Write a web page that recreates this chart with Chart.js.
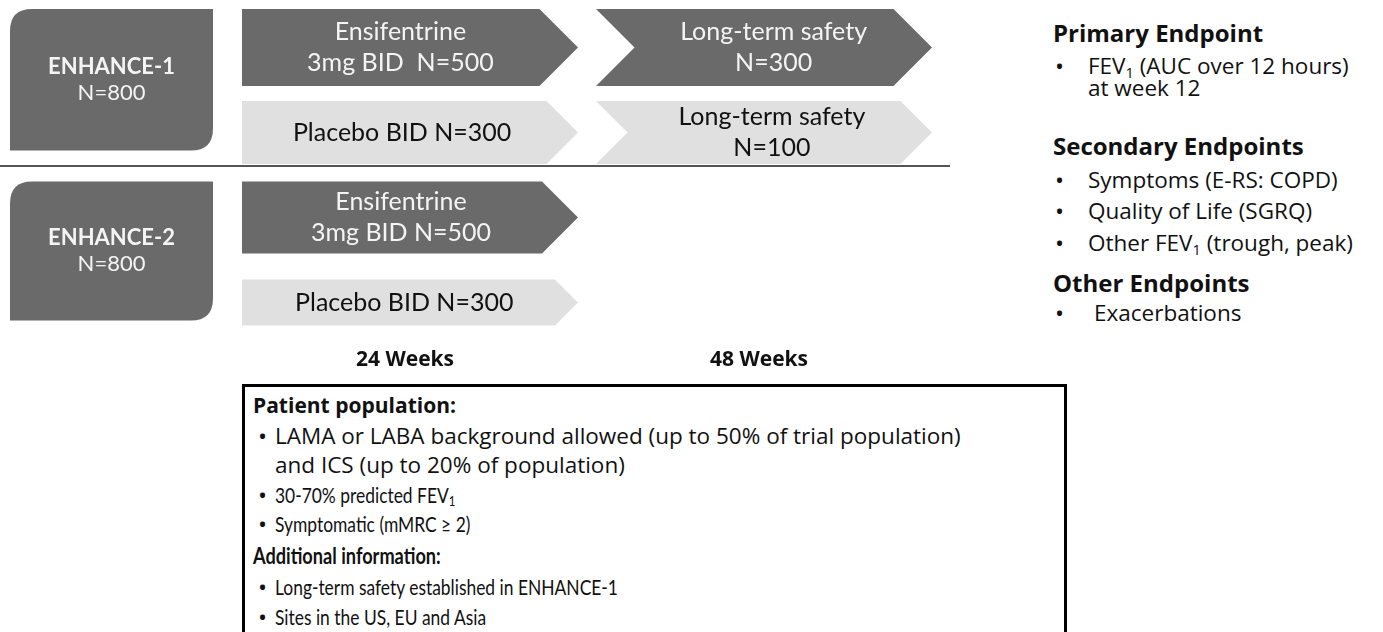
<!DOCTYPE html>
<html>
<head>
<meta charset="utf-8">
<script src="https://cdn.jsdelivr.net/npm/chart.js@4.4.1/dist/chart.umd.min.js"></script>
<style>
  body { margin: 0; width: 1383px; height: 632px; overflow: hidden; background: #fff; position: relative; font-family: "Open Sans", sans-serif; color: #111; }
  #wrap { position: absolute; left: 0; top: 0; width: 960px; height: 380px; }
  .ln { position: absolute; height: 30px; line-height: 30px; white-space: nowrap; }
  .hd { font-weight: 700; font-size: 24px; }
  .hd2 { font-weight: 700; font-size: 21px; }
  .tx { font-size: 22.5px; }
  .bl { font-size: 24px; }
  .cal { font-family: Lato, sans-serif; font-size: 21.5px; transform: scaleX(0.81); transform-origin: 0 50%; }
  .calb { font-family: Lato, sans-serif; font-size: 23px; font-weight: 700; transform: scaleX(0.79); transform-origin: 0 50%; }
  sub { font-size: 0.65em; vertical-align: -0.25em; line-height: 0; }
  #box { position: absolute; left: 242px; top: 384px; width: 819px; height: 270px; border: 3px solid #000; }
</style>
</head>
<body>
<div id="wrap"><canvas id="design"></canvas></div>

<!-- endpoints -->
<div class="ln hd" style="left:1053px; top:18px">Primary Endpoint</div>
<div class="ln bl" style="left:1055px; top:51px">•</div>
<div class="ln tx" style="left:1088px; top:51px">FEV<sub>1</sub> (AUC over 12 hours)</div>
<div class="ln tx" style="left:1088px; top:73px">at week 12</div>
<div class="ln hd" style="left:1053px; top:131px">Secondary Endpoints</div>
<div class="ln bl" style="left:1055px; top:165px">•</div>
<div class="ln tx" style="left:1088px; top:165px">Symptoms (E-RS: COPD)</div>
<div class="ln bl" style="left:1055px; top:196px">•</div>
<div class="ln tx" style="left:1088px; top:196px">Quality of Life (SGRQ)</div>
<div class="ln bl" style="left:1055px; top:228px">•</div>
<div class="ln tx" style="left:1088px; top:228px">Other FEV<sub>1</sub> (trough, peak)</div>
<div class="ln hd" style="left:1053px; top:268px">Other Endpoints</div>
<div class="ln bl" style="left:1055px; top:298px">•</div>
<div class="ln tx" style="left:1094px; top:298px">Exacerbations</div>

<!-- population box -->
<div id="box"></div>
<div class="ln hd2" style="left:253px; top:390px">Patient population:</div>
<div class="ln bl" style="left:258px; top:421px">•</div>
<div class="ln tx" style="left:275px; top:421px">LAMA or LABA background allowed (up to 50% of trial population)</div>
<div class="ln tx" style="left:275px; top:450px">and ICS (up to 20% of population)</div>
<div class="ln bl" style="left:258px; top:480px">•</div>
<div class="ln cal" style="left:275px; top:480px">30-70% predicted FEV<sub>1</sub></div>
<div class="ln bl" style="left:258px; top:509px">•</div>
<div class="ln cal" style="left:275px; top:509px">Symptomatic (mMRC ≥ 2)</div>
<div class="ln calb" style="left:253px; top:540px">Additional information:</div>
<div class="ln bl" style="left:258px; top:572px">•</div>
<div class="ln cal" style="left:275px; top:572px">Long-term safety established in ENHANCE-1</div>
<div class="ln bl" style="left:258px; top:602px">•</div>
<div class="ln cal" style="left:275px; top:602px">Sites in the US, EU and Asia</div>

<script>
// trial design data
const rows = ['ENHANCE-1 active', 'ENHANCE-1 placebo', 'ENHANCE-2 active', 'ENHANCE-2 placebo'];
const rowArm = ['active', 'placebo', 'active', 'placebo'];
const studies = ['ENHANCE-1', 'ENHANCE-2'];
const studyN = [800, 800];
const treatmentWeeks = [0, 24];
const safetyWeeks = [24, 48];
const treatmentText = [
  ['Ensifentrine', '3mg BID  N=500'],
  ['Placebo BID N=300'],
  ['Ensifentrine', '3mg BID N=500'],
  ['Placebo BID N=300']
];
const safetyText = [
  ['Long-term safety', 'N=300'],
  ['Long-term safety', 'N=100'],
  null,
  null
];
const weekTicks = [24, 48];
const weekLabels = ['24 Weeks', '48 Weeks'];

// look
const DARK = '#6a6a6a';
const LIGHT = '#e0e0e0';
const ROW_H = [77, 63, 72, 46];
const GAP = 18;

function chevron(ctx, l, r, top, bot, notch) {
  const d = (bot - top) / 2;
  ctx.beginPath();
  ctx.moveTo(l, top);
  ctx.lineTo(r - d, top);
  ctx.lineTo(r, top + d);
  ctx.lineTo(r - d, bot);
  ctx.lineTo(l, bot);
  if (notch) ctx.lineTo(l + d, top + d);
  ctx.closePath();
  ctx.fill();
}

function roundBox(ctx, l, t, r, b, rad) {
  ctx.beginPath();
  ctx.moveTo(l + rad, t);
  ctx.lineTo(r, t);
  ctx.lineTo(r, b - rad);
  ctx.quadraticCurveTo(r, b, r - rad, b);
  ctx.lineTo(l, b);
  ctx.lineTo(l, t + rad);
  ctx.quadraticCurveTo(l, t, l + rad, t);
  ctx.closePath();
  ctx.fill();
}

const armsPlugin = {
  id: 'arms',
  afterDatasetsDraw(chart) {
    const { ctx, chartArea, scales: { x, y } } = chart;
    ctx.save();

    // study boxes
    studies.forEach((name, s) => {
      const top = y.getPixelForValue(2 * s) - ROW_H[2 * s] / 2;
      const bot = y.getPixelForValue(2 * s + 1) + 18;
      const l = chartArea.left + 4, r = x.getPixelForValue(0) - 29;
      ctx.fillStyle = DARK;
      roundBox(ctx, l, top, r, bot, 22);
      const cx = (l + r) / 2, cy = (top + bot) / 2;
      ctx.fillStyle = '#f4f4f4';
      ctx.textAlign = 'center';
      ctx.textBaseline = 'middle';
      ctx.font = 'bold 22px Lato';
      ctx.fillText(name, cx, cy - 13);
      ctx.font = '22px Lato';
      ctx.fillText('N=' + studyN[s], cx, cy + 13);
    });

    // divider between the two studies
    const lineY = y.getPixelForValue(1) + ROW_H[1] / 2 + 2;
    ctx.strokeStyle = '#555';
    ctx.lineWidth = 2;
    ctx.beginPath();
    ctx.moveTo(0, lineY);
    ctx.lineTo(chartArea.right, lineY);
    ctx.stroke();

    // arms
    chart.data.datasets.forEach((ds, di) => {
      const texts = di === 0 ? treatmentText : safetyText;
      chart.getDatasetMeta(di).data.forEach((bar, i) => {
        const v = ds.data[i];
        if (!v) return;
        const h = ROW_H[i];
        const top = bar.y - h / 2, bot = bar.y + h / 2;
        const l = x.getPixelForValue(v[0]);
        const r = x.getPixelForValue(v[1]) - GAP;
        const active = rowArm[i] === 'active';
        ctx.fillStyle = active ? DARK : LIGHT;
        chevron(ctx, l, r, top, bot, v[0] > 0);
        const d = h / 2;
        const cx = (l + (v[0] > 0 ? d : 0) + r - d * 0.5) / 2;
        ctx.fillStyle = active ? '#f4f4f4' : '#111';
        ctx.font = '25px Lato';
        ctx.textAlign = 'center';
        ctx.textBaseline = 'middle';
        const lines = texts[i];
        lines.forEach((t, k) => {
          ctx.fillText(t, cx, bar.y + (k - (lines.length - 1) / 2) * 31);
        });
      });
    });
    ctx.restore();
  }
};

new Chart(document.getElementById('design'), {
  type: 'bar',
  data: {
    labels: rows,
    datasets: [
      { label: 'Treatment', data: rows.map(() => treatmentWeeks), backgroundColor: 'rgba(0,0,0,0)', grouped: false },
      { label: 'Long-term safety', data: safetyText.map(t => t ? safetyWeeks : null), backgroundColor: 'rgba(0,0,0,0)', grouped: false }
    ]
  },
  options: {
    indexAxis: 'y',
    responsive: true,
    maintainAspectRatio: false,
    animation: false,
    events: [],
    layout: { padding: { left: 6, right: 10, top: 5, bottom: 5 } },
    plugins: { legend: { display: false }, tooltip: { enabled: false } },
    scales: {
      y: { display: false },
      x: {
        min: -16,
        max: 48,
        grid: { display: false, drawTicks: false },
        border: { display: false },
        afterBuildTicks(axis) {
          axis.ticks = weekTicks.map((w, i) => ({ value: (w + (i ? weekTicks[i - 1] : 0)) / 2 }));
        },
        afterFit(axis) { axis.height = 30; },
        ticks: {
          autoSkip: false,
          maxRotation: 0,
          padding: 2,
          labelOffset: -14,
          color: '#111',
          font: { family: 'Open Sans', weight: 'bold', size: 21 },
          callback: (v, i) => weekLabels[i]
        }
      }
    }
  },
  plugins: [armsPlugin]
});
</script>
</body>
</html>
